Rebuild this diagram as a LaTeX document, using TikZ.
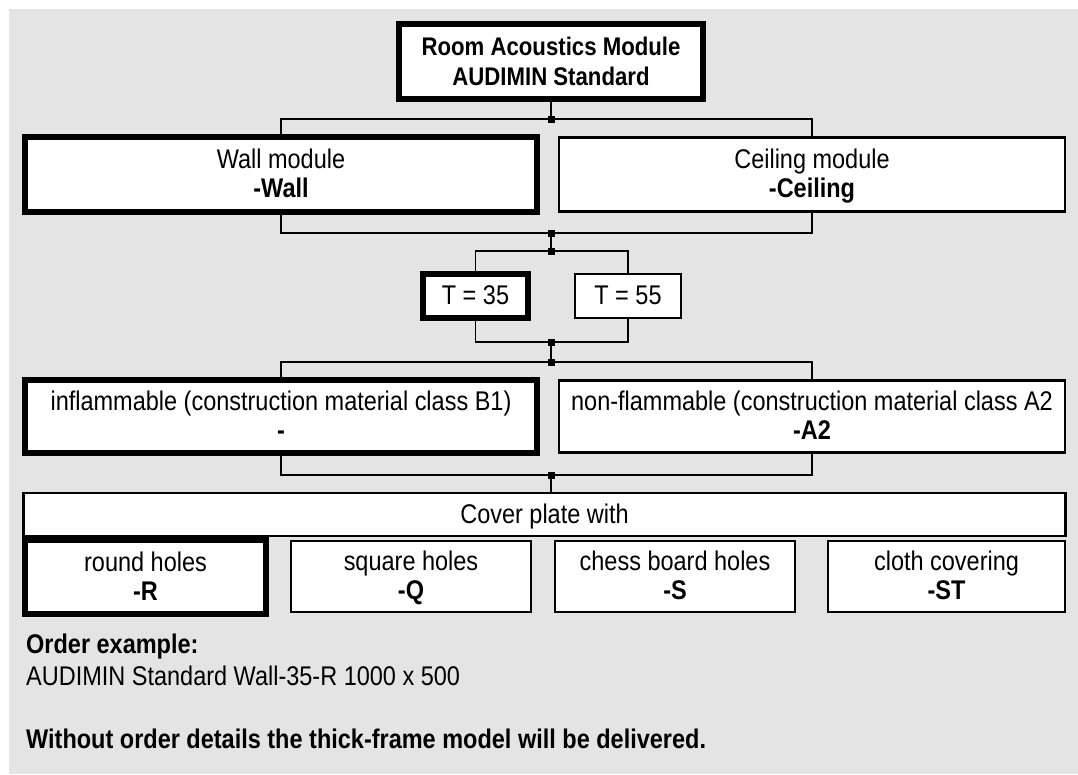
\documentclass[tikz,border=0pt]{standalone}
\usepackage{fontspec}
\setmainfont{Liberation Sans}[FakeStretch=0.87]
\definecolor{panelgray}{RGB}{228,228,228}
\newcommand{\lstrut}{\rule[-6pt]{0pt}{29pt}}
\newcommand{\optlabel}[2]{\lstrut#1\\\lstrut\textbf{#2}}
\tikzset{
  optbox/.style={draw=black, fill=white, line width=2.2pt, inner sep=0pt, align=center, font=\fontsize{27}{29}\selectfont},
  stdbox/.style={optbox, line width=6pt},
  junc/.style={fill=black, minimum size=7pt, inner sep=0pt},
  conn/.style={line width=1.4pt},
  note/.style={anchor=base west, inner sep=0pt, font=\fontsize{27}{29}\selectfont},
}

\begin{document}
\begin{tikzpicture}[x=1pt,y=-1pt]
  %% Panel
  \fill[white] (0,0) rectangle (1078,774);
  \useasboundingbox (0,0) rectangle (1078,774);
  \fill[panelgray] (9,9) rectangle (1078,774);

  %% Level 1 -- module
  \node[stdbox, font=\bfseries\fontsize{25.5}{27}\selectfont, minimum width=304pt, minimum height=75pt] (room) at (551,61.5) {\lstrut Room Acoustics Module\\\lstrut AUDIMIN Standard};

  %% Level 2 -- wall / ceiling
  \node[stdbox, minimum width=512pt, minimum height=75pt] (wall) at (281,174.5) {\optlabel{Wall module}{-Wall}};
  \node[optbox, minimum width=506pt, minimum height=74pt] (ceil) at (812,174.5) {\optlabel{Ceiling module}{-Ceiling}};

  %% Level 3 -- thickness
  \node[stdbox, minimum width=105pt, minimum height=44pt] (t35) at (475.5,296) {\lstrut T = 35};
  \node[optbox, minimum width=106pt, minimum height=44pt] (t55) at (628,296) {\lstrut T = 55};

  %% Level 4 -- material class
  \node[stdbox, minimum width=512pt, minimum height=73pt] (infl) at (281,416.5) {\optlabel{inflammable (construction material class B1)}{-}};
  \node[optbox, minimum width=506pt, minimum height=72pt] (nonfl) at (812,416.5) {\optlabel{non-flammable (construction material class A2}{-A2}};

  %% Level 5 -- cover plate
  \node[optbox, minimum width=1042pt, minimum height=43pt] (cover) at (544.5,514.5) {\lstrut Cover plate with};
  \node[stdbox, minimum width=241pt, minimum height=74pt] (round) at (145.5,577) {\optlabel{round holes}{-R}};
  \node[optbox, minimum width=240pt, minimum height=71pt] (square) at (411,576.5) {\optlabel{square holes}{-Q}};
  \node[optbox, minimum width=240pt, minimum height=71pt] (chess) at (675,576.5) {\optlabel{chess board holes}{-S}};
  \node[optbox, minimum width=237pt, minimum height=71pt] (cloth) at (946.5,576.5) {\optlabel{cloth covering}{-ST}};

  %% Junctions
  \node[junc] (j1) at (551,119) {};
  \node[junc] (j2) at (551,233) {};
  \node[junc] (j3) at (551,251) {};
  \node[junc] (j4) at (551,342) {};
  \node[junc] (j5) at (551,362) {};
  \node[junc] (j6) at (551,475) {};

  %% Connectors
  \draw[conn] (room.south) -- (j1.center);
  \draw[conn] (wall.north) |- (j1.center) -| (ceil.north);
  \draw[conn] (wall.south) |- (j2.center) -| (ceil.south);
  \draw[conn] (j2.center) -- (j3.center);
  \draw[conn] (t35.north) |- (j3.center) -| (t55.north);
  \draw[conn] (t35.south) |- (j4.center) -| (t55.south);
  \draw[conn] (j4.center) -- (j5.center);
  \draw[conn] (infl.north) |- (j5.center) -| (nonfl.north);
  \draw[conn] (infl.south) |- (j6.center) -| (nonfl.south);
  \draw[conn] (j6.center) -- (j6 |- cover.north);

  %% Order notes
  \node[note, font=\bfseries\fontsize{27}{29}\selectfont] (ordhead) at (26,653) {Order example:};
  \node[note] (ordtext) at (26,685) {AUDIMIN Standard Wall-35-R 1000 x 500};
  \node[note, font=\bfseries\fontsize{27}{29}\selectfont] (remark) at (26,748) {Without order details the thick-frame model will be delivered.};
\end{tikzpicture}
\end{document}
